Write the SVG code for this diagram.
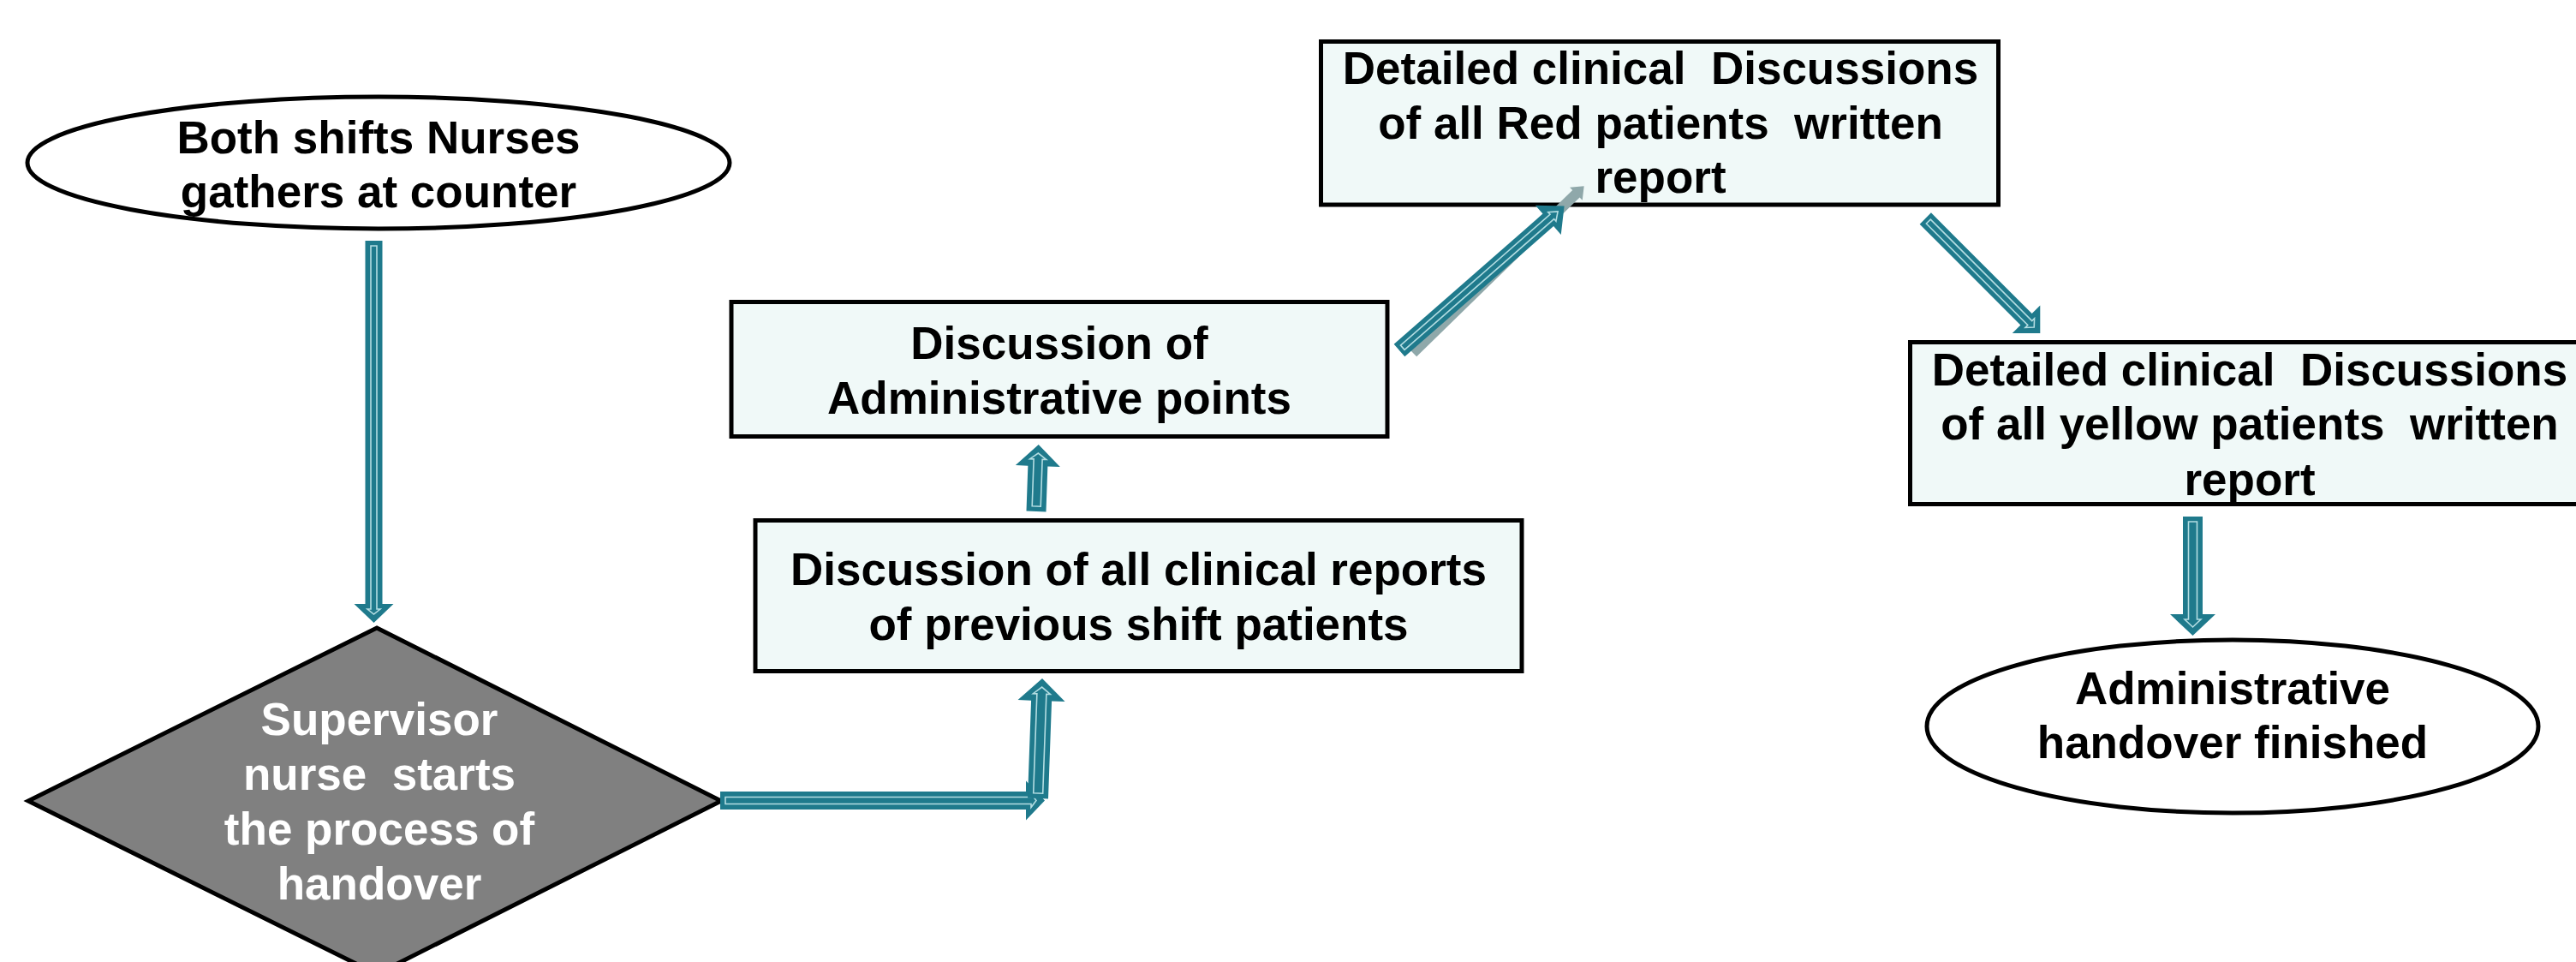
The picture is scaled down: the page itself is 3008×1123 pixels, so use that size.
<svg xmlns="http://www.w3.org/2000/svg" width="3008" height="1123" viewBox="0 0 3008 1123">
<style>
.box{fill:#F0F9F8;stroke:#000;stroke-width:5}
.term{fill:#fff;stroke:#000;stroke-width:5}
.dia{fill:#808080;stroke:#000;stroke-width:5;stroke-linejoin:miter}
.t{font-family:"Liberation Sans",Arial,sans-serif;font-weight:bold;font-size:53px;text-anchor:middle;white-space:pre;fill:#000}
.tw{fill:#fff}
.arr{fill:#1F7A8C}
.inner{fill:none;stroke:#B3DDE2;stroke-width:1.6}
.shadow{fill:#8FA8AA}
</style>
<rect width="3008" height="1123" fill="#fff"/>
<g id="start">
<ellipse class="term" cx="442" cy="190" rx="410" ry="77"/>
<text class="t" x="442" y="179">Both shifts Nurses</text>
<text class="t" x="442" y="242">gathers at counter</text>
</g>
<g id="supervisor">
<polygon class="dia" points="440,733 842,935 440,1137 33,935"/>
<text class="t tw" x="443" y="858">Supervisor</text>
<text class="t tw" x="443" y="922">nurse  starts</text>
<text class="t tw" x="443" y="986">the process of</text>
<text class="t tw" x="443" y="1050">handover</text>
</g>
<g id="clinical-reports">
<rect class="box" x="882" y="607.5" width="895" height="176"/>
<text class="t" x="1329.5" y="683">Discussion of all clinical reports</text>
<text class="t" x="1329.5" y="747">of previous shift patients</text>
</g>
<g id="admin-points">
<rect class="box" x="854" y="352.5" width="766" height="157"/>
<text class="t" x="1237" y="419">Discussion of</text>
<text class="t" x="1237" y="483">Administrative points</text>
</g>
<g id="red-patients">
<rect class="box" x="1542.5" y="48.5" width="791" height="190.5"/>
<text class="t" x="1939" y="98">Detailed clinical  Discussions</text>
<text class="t" x="1939" y="162">of all Red patients  written</text>
<text class="t" x="1939" y="225">report</text>
</g>
<g id="yellow-patients">
<rect class="box" x="2230.5" y="399.5" width="793" height="189"/>
<text class="t" x="2627" y="450">Detailed clinical  Discussions</text>
<text class="t" x="2627" y="513">of all yellow patients  written</text>
<text class="t" x="2627" y="578">report</text>
</g>
<g id="end">
<ellipse class="term" cx="2607" cy="848" rx="357" ry="101"/>
<text class="t" x="2607" y="822">Administrative</text>
<text class="t" x="2607" y="885">handover finished</text>
</g>
<g id="connectors">
<g transform="translate(436.5,281) rotate(90)">
<polygon class="arr" points="0,-10 424,-10 424,-23 446,0 424,23 424,10 0,10"/>
<polygon class="inner" points="6,-3.5 430,-3.5 430,-7.5 436,0 430,7.5 430,3.5 6,3.5"/>
</g>
<g transform="translate(841,934.5)">
<polygon class="arr" points="0,-10.5 357,-10.5 357,-23 379,0 357,23 357,10.5 0,10.5"/>
<polygon class="inner" points="6,-4 363,-4 363,-8 369,0 363,8 363,4 6,4"/>
</g>
<g transform="translate(1212,932) rotate(-87.95)">
<polygon class="arr" points="0,-12 114,-12 114,-27.5 140,0 114,27.5 114,12 0,12"/>
<polygon class="inner" points="6,-5.5 122,-5.5 122,-10 130,0 122,10 122,5.5 6,5.5"/>
</g>
<g transform="translate(1210,597) rotate(-88)">
<polygon class="arr" points="0,-11.5 53,-11.5 53,-26 78,0 53,26 53,11.5 0,11.5"/>
<polygon class="inner" points="6,-5 61,-5 61,-9.5 68,0 61,9.5 61,5 6,5"/>
</g>
<g transform="translate(1650,412) rotate(-44.3)">
<polygon class="shadow" points="0,-6 266,-6 266,-10.5 279,0 266,10.5 266,6 0,6"/>
</g>
<g transform="translate(1634,409) rotate(-41.2)">
<polygon class="arr" points="0,-9.6 231,-9.6 231,-22.7 256,0 231,22.7 231,9.6 0,9.6"/>
<polygon class="inner" points="5,-3.5 237,-3.5 237,-7 246,0 237,7 237,3.5 5,3.5"/>
</g>
<g transform="translate(2248.3,255) rotate(45)">
<polygon class="arr" points="0,-9.4 166.5,-9.4 166.5,-23 189.5,0 166.5,23 166.5,9.4 0,9.4"/>
<polygon class="inner" points="5,-3.5 172.5,-3.5 172.5,-7.5 179.5,0 172.5,7.5 172.5,3.5 5,3.5"/>
</g>
<g transform="translate(2560.5,603) rotate(90)">
<polygon class="arr" points="0,-11.5 114,-11.5 114,-26.5 139,0 114,26.5 114,11.5 0,11.5"/>
<polygon class="inner" points="6,-5 120,-5 120,-9.5 129,0 120,9.5 120,5 6,5"/>
</g>
</g>
</svg>
